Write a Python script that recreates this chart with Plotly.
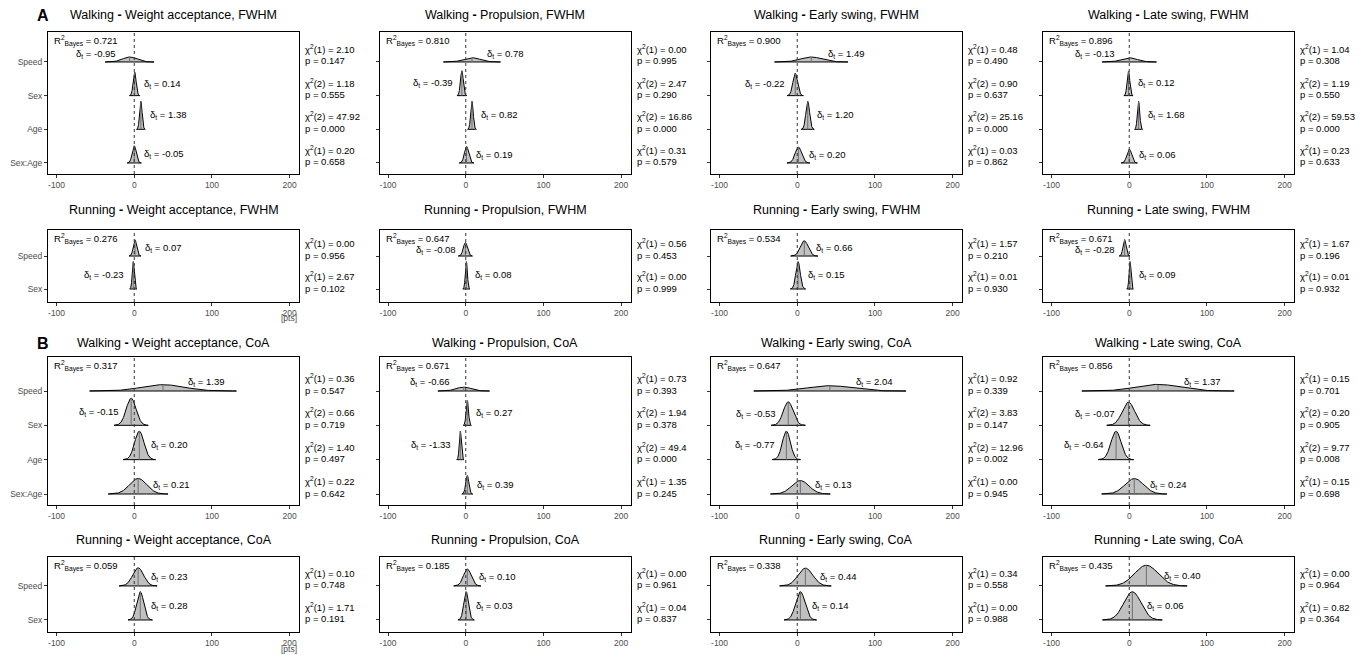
import numpy as np
import plotly.graph_objects as go

# ---------------- data ----------------
phases = ["Weight acceptance", "Propulsion", "Early swing", "Late swing"]
walk_cats = ["Speed", "Sex", "Age", "Sex:Age"]
run_cats = ["Speed", "Sex"]
walk_df = [1, 2, 2, 1]
run_df = [1, 1]

# Walking, FWHM  (per phase: Speed, Sex, Age, Sex:Age)
walk_fwhm_center = [[-6, 0.5, 8.5, 0], [8, -5, 8, 1], [18, -2.6, 13.5, 1.5], [0, -1, 12, 0]]
walk_fwhm_sd = [[9, 1.9, 1.6, 2.6], [10.5, 1.8, 1.6, 2.7], [13.5, 3.0, 2.4, 4.2], [10, 1.7, 1.5, 3.0]]
walk_fwhm_delta = [[-0.95, 0.14, 1.38, -0.05], [0.78, -0.39, 0.82, 0.19],
                   [1.49, -0.22, 1.20, 0.20], [-0.13, 0.12, 1.68, 0.06]]
walk_fwhm_chi = [["2.10", "1.18", "47.92", "0.20"], ["0.00", "2.47", "16.86", "0.31"],
                 ["0.48", "0.90", "25.16", "0.03"], ["1.04", "1.19", "59.53", "0.23"]]
walk_fwhm_p = [["0.147", "0.555", "0.000", "0.658"], ["0.995", "0.290", "0.000", "0.579"],
               ["0.490", "0.637", "0.000", "0.862"], ["0.308", "0.550", "0.000", "0.633"]]
walk_fwhm_r2 = ["0.721", "0.810", "0.900", "0.896"]

# Running, FWHM (Speed, Sex)
run_fwhm_center = [[1, -1.3], [-0.5, 0.8], [9, 1], [-6, 1]]
run_fwhm_sd = [[2.2, 1.3], [2.6, 1.3], [5, 2.8], [2, 1.2]]
run_fwhm_delta = [[0.07, -0.23], [-0.08, 0.08], [0.66, 0.15], [-0.28, 0.09]]
run_fwhm_chi = [["0.00", "2.67"], ["0.56", "0.00"], ["1.57", "0.01"], ["1.67", "0.01"]]
run_fwhm_p = [["0.956", "0.102"], ["0.453", "0.999"], ["0.210", "0.930"], ["0.196", "0.932"]]
run_fwhm_r2 = ["0.276", "0.647", "0.534", "0.671"]

# Walking, CoA
walk_coa_center = [[37, -4, 6.5, 5], [-2.6, 2, -7, 2], [42, -11.6, -14, 4], [37, -1, -17, 6.5]]
walk_coa_sd = [[27, 6.3, 6, 11], [9.5, 1.5, 1.3, 2.0], [28, 6.3, 5.2, 11], [28, 8, 6.5, 12]]
walk_coa_delta = [[1.39, -0.15, 0.20, 0.21], [-0.66, 0.27, -1.33, 0.39],
                  [2.04, -0.53, -0.77, 0.13], [1.37, -0.07, -0.64, 0.24]]
walk_coa_chi = [["0.36", "0.66", "1.40", "0.22"], ["0.73", "1.94", "49.4", "1.35"],
                ["0.92", "3.83", "12.96", "0.00"], ["0.15", "0.20", "9.77", "0.15"]]
walk_coa_p = [["0.547", "0.719", "0.497", "0.642"], ["0.393", "0.378", "0.000", "0.245"],
              ["0.339", "0.147", "0.002", "0.945"], ["0.701", "0.905", "0.008", "0.698"]]
walk_coa_r2 = ["0.317", "0.671", "0.647", "0.856"]

# Running, CoA
run_coa_center = [[5, 7.7], [2, 0.5], [10.5, 4], [22, 4]]
run_coa_sd = [[7, 4.5], [5, 3], [9.5, 6], [15, 11]]
run_coa_delta = [[0.23, 0.28], [0.10, 0.03], [0.44, 0.14], [0.40, 0.06]]
run_coa_chi = [["0.10", "1.71"], ["0.00", "0.04"], ["0.34", "0.00"], ["0.00", "0.82"]]
run_coa_p = [["0.748", "0.191"], ["0.961", "0.837"], ["0.558", "0.988"], ["0.964", "0.364"]]
run_coa_r2 = ["0.059", "0.185", "0.338", "0.435"]

x_ticks = [-100, 0, 100, 200]

# ---------------- layout geometry ----------------
W, H = 1367, 655
FONT = "Liberation Sans, Arial, sans-serif"
col_left = [48, 379.5, 711, 1043]
col_w = 251
row_top = [32, 230, 357, 557]
row_bot = [174, 302, 505, 632]
row_yrange = [[0.673, 4.89], [0.606, 2.79], [0.68, 4.99], [0.647, 2.85]]
title_y = [15, 210, 343, 540]
xrange = [-111, 212]
px_per_x = col_w / (xrange[1] - xrange[0])

rows = [
    ("Walking", "FWHM", walk_cats, walk_df, walk_fwhm_center, walk_fwhm_sd, walk_fwhm_delta,
     walk_fwhm_chi, walk_fwhm_p, walk_fwhm_r2),
    ("Running", "FWHM", run_cats, run_df, run_fwhm_center, run_fwhm_sd, run_fwhm_delta,
     run_fwhm_chi, run_fwhm_p, run_fwhm_r2),
    ("Walking", "CoA", walk_cats, walk_df, walk_coa_center, walk_coa_sd, walk_coa_delta,
     walk_coa_chi, walk_coa_p, walk_coa_r2),
    ("Running", "CoA", run_cats, run_df, run_coa_center, run_coa_sd, run_coa_delta,
     run_coa_chi, run_coa_p, run_coa_r2),
]

fig = go.Figure()
annotations = []
shapes = []
layout_axes = {}
HMAX = 0.83
TXT = 9.5

k = 0
for r, (gait, measure, cats, dfs, centers, sds, deltas, chis, ps, r2s) in enumerate(rows):
    n = len(cats)
    px_per_y = (row_bot[r] - row_top[r]) / (row_yrange[r][1] - row_yrange[r][0])
    r2_right = xrange[0] + 70 / px_per_x          # right end of the R2 text, data units
    label_cap = row_yrange[r][1] - 20 / px_per_y  # highest label centre below the R2 text
    for c in range(4):
        k += 1
        xa = "x" if k == 1 else f"x{k}"
        ya = "y" if k == 1 else f"y{k}"
        xname = "xaxis" if k == 1 else f"xaxis{k}"
        yname = "yaxis" if k == 1 else f"yaxis{k}"
        cen, sd, dl = centers[c], sds[c], deltas[c]
        min_sd = min(sd)
        for i in range(n):
            base = n - i
            h = HMAX * min_sd / sd[i]
            xs = np.linspace(cen[i] - 3.5 * sd[i], cen[i] + 3.5 * sd[i], 200)
            ys = base + h * np.exp(-0.5 * ((xs - cen[i]) / sd[i]) ** 2)
            px = np.concatenate([xs, xs[::-1]])
            py = np.concatenate([ys, np.full(len(xs), base)])
            fig.add_trace(go.Scatter(x=px, y=py, xaxis=xa, yaxis=ya, mode="lines",
                                     fill="toself", fillcolor="#C0C0C0",
                                     line=dict(color="black", width=1),
                                     hoverinfo="skip", showlegend=False))
            fig.add_trace(go.Scatter(x=[cen[i], cen[i]], y=[base, base + h], xaxis=xa, yaxis=ya,
                                     mode="lines", line=dict(color="#6E6E6E", width=1),
                                     hoverinfo="skip", showlegend=False))
            side = -1 if dl[i] < -0.06 else 1
            lx = cen[i] + side * (8 + 0.8 * sd[i])
            ly = base + max(0.5 * h, 0.25)
            left_end = lx - 42 / px_per_x if side < 0 else lx
            if left_end < r2_right:
                ly = min(ly, label_cap)
            annotations.append(dict(x=lx, y=ly, xref=xa, yref=ya,
                                    text=f"δ<sub>t</sub> = {dl[i]:.2f}", showarrow=False,
                                    xanchor="left" if side > 0 else "right", yanchor="middle",
                                    font=dict(family=FONT, size=TXT, color="black")))
            # chi-square and p
            annotations.append(dict(x=1, y=base, xref=f"{xa} domain", yref=ya,
                                    text=f"χ<sup>2</sup>({dfs[i]}) = {chis[c][i]}",
                                    showarrow=False, xanchor="left", yanchor="middle",
                                    xshift=4, yshift=13,
                                    font=dict(family=FONT, size=TXT, color="black")))
            annotations.append(dict(x=1, y=base, xref=f"{xa} domain", yref=ya,
                                    text=f"p = {ps[c][i]}",
                                    showarrow=False, xanchor="left", yanchor="middle",
                                    xshift=4, yshift=1,
                                    font=dict(family=FONT, size=TXT, color="black")))
        # R2
        annotations.append(dict(x=0, y=1, xref=f"{xa} domain", yref=f"{ya} domain",
                                text=f"R<sup>2</sup><sub>Bayes</sub> = {r2s[c]}", showarrow=False,
                                xanchor="left", yanchor="top", xshift=4, yshift=0,
                                font=dict(family=FONT, size=TXT, color="black")))
        # title
        annotations.append(dict(x=(col_left[c] + col_w / 2) / W, y=1 - title_y[r] / H,
                                xref="paper", yref="paper",
                                text=f"{gait} <b>-</b> {phases[c]}, {measure}", showarrow=False,
                                xanchor="center", yanchor="middle",
                                font=dict(family=FONT, size=12.5, color="black")))
        # zero line
        shapes.append(dict(type="line", x0=0, x1=0, y0=0, y1=1, xref=xa, yref=f"{ya} domain",
                           line=dict(color="#333333", width=1, dash="3px,3px"), layer="above"))
        layout_axes[xname] = dict(
            domain=[col_left[c] / W, (col_left[c] + col_w) / W], anchor=ya,
            range=xrange, tickvals=x_ticks, ticktext=[str(t) for t in x_ticks],
            ticks="outside", ticklen=3, tickcolor="#333333", tickwidth=1,
            tickfont=dict(family=FONT, size=8.5, color="#4D4D4D"),
            showline=True, mirror=True, linecolor="black", linewidth=1,
            showgrid=False, zeroline=False, fixedrange=True)
        layout_axes[yname] = dict(
            domain=[1 - row_bot[r] / H, 1 - row_top[r] / H], anchor=xa,
            range=row_yrange[r], tickvals=[n - i for i in range(n)],
            ticktext=cats, showticklabels=(c == 0),
            ticks="outside", ticklen=3, tickcolor="#333333", tickwidth=1,
            tickfont=dict(family=FONT, size=8.5, color="#4D4D4D"),
            showline=True, mirror=True, linecolor="black", linewidth=1,
            showgrid=False, zeroline=False, fixedrange=True)

# panel letters
for lab, yy in (("A", 15), ("B", 343)):
    annotations.append(dict(x=35 / W, y=1 - yy / H, xref="paper", yref="paper", text=f"<b>{lab}</b>",
                            showarrow=False, xanchor="left", yanchor="middle",
                            font=dict(family=FONT, size=16, color="black")))
# units
for yy in (318, 649):
    annotations.append(dict(x=299 / W, y=1 - yy / H, xref="paper", yref="paper", text="[pts]",
                            showarrow=False, xanchor="right", yanchor="middle",
                            font=dict(family=FONT, size=8.5, color="#4D4D4D")))

fig.update_layout(width=W, height=H, margin=dict(l=0, r=0, t=0, b=0),
                  paper_bgcolor="white", plot_bgcolor="white",
                  annotations=annotations, shapes=shapes, showlegend=False,
                  **layout_axes)
fig.write_html("out.html")
